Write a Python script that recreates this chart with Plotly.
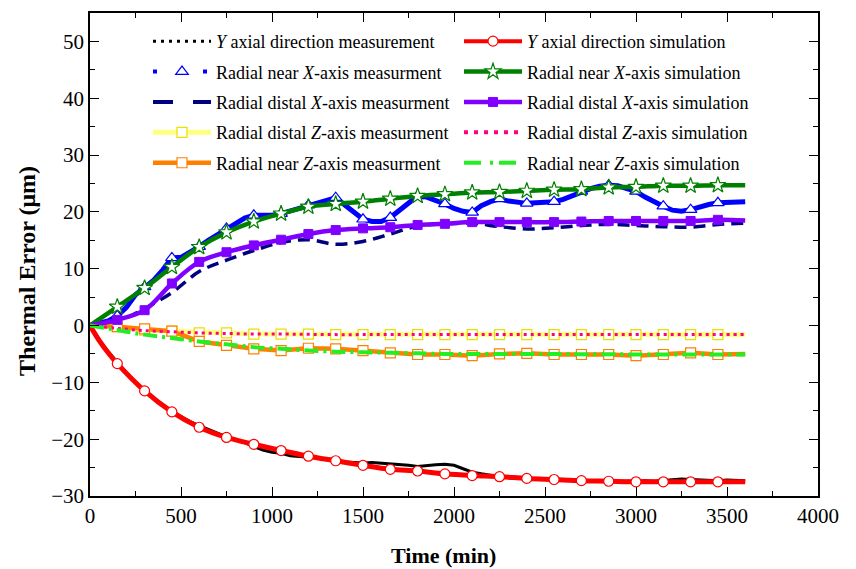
import plotly.graph_objects as go

# ---------------- data ----------------
# dense measurements sampled every 50 min
STEP_DENSE = 50
y_axial_meas = [0, -2.5, -4.6, -6.6, -8.4, -10.0, -11.5, -12.8, -14.0, -15.1, -16.0, -16.9,
                -17.6, -18.3, -19.0, -19.6, -20.1, -20.6, -21.3, -21.9, -22.3, -22.5, -22.9,
                -23.1, -23.2, -23.3, -23.6, -23.8, -24.0, -24.1, -24.2, -24.1, -24.2, -24.4,
                -24.5, -24.6, -24.8, -24.6, -24.5, -24.4, -24.6, -25.2, -25.8, -26.1, -26.4,
                -26.6, -26.8, -26.9, -27.0, -27.0, -27.1, -27.1, -27.2, -27.3, -27.3, -27.3,
                -27.4, -27.3, -27.4, -27.4, -27.4, -27.3, -27.4, -27.3, -27.2, -27.0, -27.1,
                -27.2, -27.3, -27.3, -27.2, -27.3, -27.3]
near_x_meas = [0.0, 0.3, 0.8, 1.7, 3.2, 5.4, 6.8, 8.0, 9.8, 11.9, 12.0, 12.9, 13.9, 15.0, 16.0,
               17.1, 18.1, 18.9, 19.4, 19.3, 19.4, 19.7, 20.2, 20.7, 21.2, 21.6, 22.1, 22.5,
               21.2, 19.9, 18.7, 18.3, 18.3, 19.0, 20.3, 21.6, 22.8, 22.6, 22.1, 21.4, 20.6,
               20.1, 19.9, 21.1, 21.8, 22.3, 21.9, 21.6, 21.5, 21.6, 21.7, 21.8, 22.2, 22.9,
               23.6, 24.1, 24.5, 24.7, 24.6, 24.2, 23.6, 22.6, 21.7, 21.0, 20.3, 20.1, 20.4,
               20.9, 21.3, 21.6, 21.6, 21.6, 21.8]

# sparse series sampled every 150 min (0 ... 3600)
STEP = 150
distal_x_meas = [0, 0.7, 3.0, 5.8, 9.5, 11.5, 13.2, 14.6, 15.1, 14.3, 14.8, 16.1, 17.5, 17.9,
                 18.0, 17.4, 17.0, 17.2, 17.6, 17.8, 17.6, 17.4, 17.3, 17.8, 18.0]
distal_z_meas = [0, -0.2, -0.8, -1.0, -1.3, -1.3, -1.5, -1.5, -1.5, -1.6, -1.6, -1.6, -1.6,
                 -1.6, -1.6, -1.6, -1.6, -1.6, -1.6, -1.6, -1.6, -1.6, -1.6, -1.6, -1.6]
near_z_meas = [0, -0.2, -0.6, -1.0, -2.8, -3.5, -4.1, -4.4, -4.0, -4.1, -4.4, -4.8, -5.1,
               -5.1, -5.3, -5.0, -4.9, -5.1, -5.1, -5.1, -5.3, -5.1, -4.8, -5.1, -5.0]
y_axial_sim_t = [0, 50, 100] + list(range(150, 3601, 150))
y_axial_sim = [0, -2.6, -4.8, -6.7, -11.5, -15.2, -17.9, -19.7, -20.9, -22.0, -23.0, -23.8,
               -24.6, -25.3, -25.6, -26.1, -26.4, -26.6, -26.9, -27.1, -27.3, -27.4, -27.5,
               -27.5, -27.5, -27.5, -27.5]
near_x_sim = [0, 3.3, 6.6, 10.3, 13.8, 16.4, 18.3, 19.7, 20.9, 21.4, 21.8, 22.3, 22.8, 23.1,
              23.4, 23.5, 23.7, 23.9, 24.0, 24.3, 24.4, 24.6, 24.6, 24.7, 24.7]
distal_x_sim = [0, 1.0, 2.7, 7.4, 11.2, 12.9, 14.1, 15.1, 16.1, 16.8, 17.1, 17.3, 17.7, 17.9,
                18.2, 18.2, 18.2, 18.2, 18.3, 18.4, 18.4, 18.4, 18.4, 18.6, 18.5]
distal_z_sim = [0, -0.5, -0.9, -1.1, -1.3, -1.4, -1.5, -1.5, -1.55, -1.6, -1.6, -1.6, -1.6,
                -1.6, -1.6, -1.6, -1.6, -1.6, -1.6, -1.6, -1.6, -1.6, -1.6, -1.6, -1.6]
near_z_sim = [0, -0.8, -1.6, -2.2, -2.8, -3.3, -3.8, -4.1, -4.4, -4.6, -4.7, -4.8, -4.9, -5.0,
              -5.0, -5.0, -5.0, -5.0, -5.05, -5.05, -5.1, -5.1, -5.1, -5.1, -5.1]

labels = {
    "ym": "<i>Y</i> axial direction measurement",
    "ys": "<i>Y</i> axial direction simulation",
    "nxm": "Radial near <i>X</i>-axis measurment",
    "nxs": "Radial near <i>X</i>-axis simulation",
    "dxm": "Radial distal <i>X</i>-axis measurment",
    "dxs": "Radial distal <i>X</i>-axis simulation",
    "dzm": "Radial distal <i>Z</i>-axis measurment",
    "dzs": "Radial distal <i>Z</i>-axis simulation",
    "nzm": "Radial near <i>Z</i>-axis measurment",
    "nzs": "Radial near <i>Z</i>-axis simulation",
}

MARK_EVERY = 150
T_END = 3600


def times(values, step):
    return [step * i for i in range(len(values))]


def marked(x, y):
    pts = [(a, b) for a, b in zip(x, y) if a % MARK_EVERY == 0 and 0 < a < T_END]
    return [p[0] for p in pts], [p[1] for p in pts]


FONT = "Liberation Serif"
fig = go.Figure()


def add_series(x, y, color, width, dash="solid", shape="linear", marker=None):
    fig.add_trace(go.Scatter(x=x, y=y, mode="lines", showlegend=False, hoverinfo="skip",
                             line=dict(color=color, width=width, dash=dash, shape=shape)))
    if marker is not None:
        mx, my = marked(x, y)
        fig.add_trace(go.Scatter(x=mx, y=my, mode="markers", showlegend=False,
                                 hoverinfo="skip", marker=marker))


red = "#FF0000"
green = "#008000"
purple = "#8000FF"
blue = "#0000FF"
navy = "#000080"
lyellow = "#FFFF80"
yedge = "#E8E000"
pink = "#FF0080"
orange = "#FF8000"
lime = "#22EE22"

mk_circle = dict(symbol="circle", size=10, color="white", line=dict(color=red, width=1.2))
mk_tri = dict(symbol="triangle-up", size=11, color="white", line=dict(color=blue, width=1.2))
mk_star = dict(symbol="star", size=12, color="white", line=dict(color=green, width=1.2))
mk_sq = dict(symbol="square", size=9, color=purple, line=dict(color=purple, width=1))
mk_ysq = dict(symbol="square", size=10, color="white", line=dict(color=yedge, width=1.2))
mk_osq = dict(symbol="square", size=10, color="white", line=dict(color=orange, width=1.2))

# measurements
add_series(times(y_axial_meas, STEP_DENSE), y_axial_meas, "black", 3)
add_series(times(near_x_meas, STEP_DENSE), near_x_meas, blue, 5, marker=mk_tri)
add_series(times(distal_x_meas, STEP), distal_x_meas, navy, 3.5, dash="12px,7px", shape="spline")
add_series(times(distal_z_meas, STEP), distal_z_meas, lyellow, 5, marker=mk_ysq)
add_series(times(near_z_meas, STEP), near_z_meas, orange, 4.5, marker=mk_osq)
# simulations
add_series(y_axial_sim_t, y_axial_sim, red, 5, shape="spline", marker=mk_circle)
add_series(times(near_x_sim, STEP), near_x_sim, green, 4.5, shape="spline", marker=mk_star)
add_series(times(distal_x_sim, STEP), distal_x_sim, purple, 4.5, shape="spline", marker=mk_sq)
add_series(times(distal_z_sim, STEP), distal_z_sim, pink, 3, dash="3px,4px", shape="spline")
add_series(times(near_z_sim, STEP), near_z_sim, lime, 4, dash="14px,5px,3px,5px", shape="spline")

# legend entries
def leg(name, legend, color, width, dash="solid", marker=None, group=None):
    fig.add_trace(go.Scatter(x=[None], y=[None], name=name, legend=legend, legendgroup=group,
                             mode="lines+markers" if marker else "lines",
                             line=dict(color=color, width=width, dash=dash),
                             marker=marker if marker else None))

leg(labels["ym"], "legend", "black", 3, "3px,5px", group="a1")
leg(labels["nxm"], "legend", blue, 4, "4px,46px", mk_tri, group="a2")
leg(labels["dxm"], "legend", navy, 4, "20px,20px", group="a3")
leg(labels["dzm"], "legend", lyellow, 5, marker=mk_ysq, group="a4")
leg(labels["nzm"], "legend", orange, 4.5, marker=mk_osq, group="a5")
leg(labels["ys"], "legend2", red, 4, marker=mk_circle, group="b1")
leg(labels["nxs"], "legend2", green, 4.5, marker=mk_star, group="b2")
leg(labels["dxs"], "legend2", purple, 4.5, marker=mk_sq, group="b3")
leg(labels["dzs"], "legend2", pink, 4, "4px,6px", group="b4")
leg(labels["nzs"], "legend2", lime, 4, "17px,9px,3px,6px", group="b5")

legend_common = dict(font=dict(family=FONT, size=18, color="black"), bgcolor="rgba(0,0,0,0)",
                     borderwidth=0, itemwidth=58, tracegroupgap=4, traceorder="grouped",
                     xanchor="left", yanchor="top", yref="paper", xref="paper")

axis_common = dict(showline=True, linecolor="black", linewidth=1.6, mirror="allticks",
                   ticks="inside", ticklen=9, tickwidth=1.4, tickcolor="black",
                   showgrid=False, zeroline=False,
                   tickfont=dict(family=FONT, size=21, color="black"))

fig.update_layout(
    width=856, height=569,
    margin=dict(l=90, r=38, t=11, b=73),
    plot_bgcolor="white", paper_bgcolor="white",
    xaxis=dict(range=[0, 4000], tickvals=list(range(0, 4001, 500)),
               minor=dict(dtick=250, ticklen=5, ticks="inside", tickcolor="black", tickwidth=1.2),
               **axis_common),
    yaxis=dict(range=[-30, 55], tickvals=list(range(-30, 51, 10)),
               minor=dict(dtick=5, ticklen=5, ticks="inside", tickcolor="black", tickwidth=1.2),
               **axis_common),
    legend=dict(x=(148 - 90) / 728, y=1 - (21 - 11) / 485, **legend_common),
    legend2=dict(x=(459 - 90) / 728, y=1 - (21 - 11) / 485, **legend_common),
    annotations=[
        dict(text="<b>Time (min)</b>", x=443, y=556, xref="paper", yref="paper",
             showarrow=False, font=dict(family=FONT, size=22, color="black")),
        dict(text="<b>Thermal Error (μm)</b>", x=27, y=270, textangle=-90,
             showarrow=False, font=dict(family=FONT, size=24, color="black")),
    ],
)
# convert pixel annotation positions to paper coords
W, H = 856, 569
L, R, T, B = 90, 38, 11, 73
pw, ph = W - L - R, H - T - B
anns = []
for a in fig.layout.annotations:
    d = a.to_plotly_json()
    d["xref"], d["yref"] = "paper", "paper"
    d["x"] = (d["x"] - L) / pw
    d["y"] = 1 - (d["y"] - T) / ph
    d["xanchor"], d["yanchor"] = "center", "middle"
    anns.append(d)
fig.update_layout(annotations=anns)

fig.write_html("out.html")
